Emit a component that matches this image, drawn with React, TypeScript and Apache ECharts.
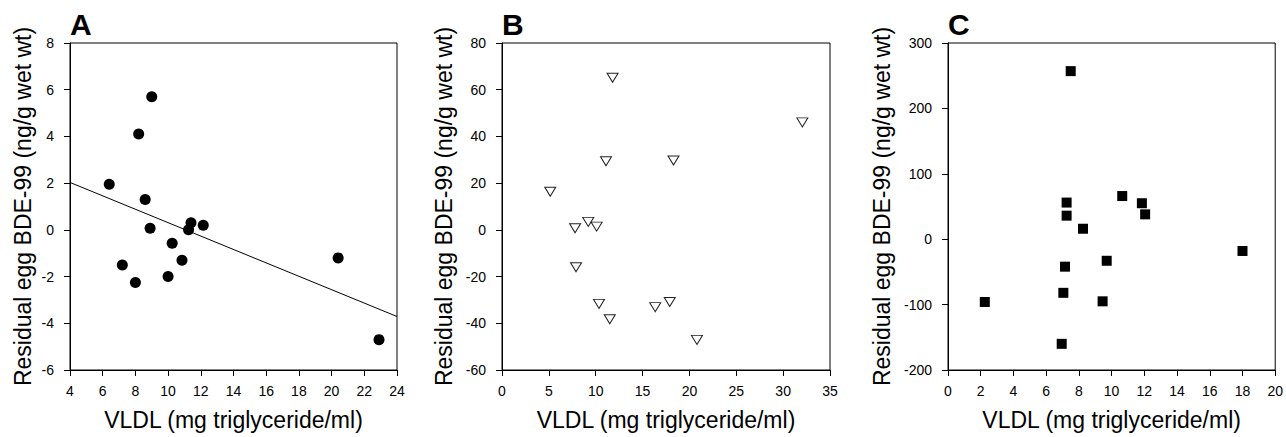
import React, { useEffect, useRef } from "react";
import * as echarts from "echarts";

// Panel A (filled circles + regression line)
const aX = [6.4, 7.2, 8.0, 8.2, 8.6, 9.0, 8.9, 10.0, 10.25, 10.85, 11.25, 11.4, 12.15, 20.4, 22.9];
const aY = [1.95, -1.5, -2.25, 4.1, 1.3, 5.7, 0.07, -2.0, -0.57, -1.3, 0.0, 0.3, 0.2, -1.2, -4.7];
const aLineX = [4, 24];
const aLineY = [2.03, -3.71];

// Panel B (open down-triangles)
const bX = [5.15, 7.8, 7.9, 9.2, 10.1, 10.35, 11.1, 11.5, 11.8, 16.35, 17.9, 18.3, 20.8, 32.05];
const bY = [16.3, 0.7, -16, 3.4, 1.4, -31.7, 29.4, -38.3, 65.1, -33.1, -30.9, 29.7, -47.1, 46];

// Panel C (filled squares)
const cX = [2.25, 6.95, 7.05, 7.15, 7.25, 7.25, 7.5, 8.25, 9.45, 9.7, 10.65, 11.85, 12.05, 18.0];
const cY = [-96, -160, -82, -42, 36, 56, 257, 16, -95, -33, 66, 55, 38, -18];

// Axes
const xAxes = [
  { min: 4, max: 24, interval: 2 },
  { min: 0, max: 35, interval: 5 },
  { min: 0, max: 20, interval: 2 },
];
const yAxes = [
  { min: -6, max: 8, interval: 2 },
  { min: -60, max: 80, interval: 20 },
  { min: -200, max: 300, interval: 100 },
];
const panelLetters = ["A", "B", "C"];
const xTitle = "VLDL (mg triglyceride/ml)";
const yTitle = "Residual egg BDE-99 (ng/g wet wt)";

const FONT = "'Liberation Sans', Arial, Helvetica, sans-serif";

const gridLefts = [70, 502, 948];
const gridWidths = [327, 328, 328];
const yNameGaps = [36, 47, 55];

function zip(xs: number[], ys: number[]) {
  return xs.map((x, i) => [x, ys[i]]);
}

export default function App() {
  const ref = useRef<HTMLDivElement>(null);
  useEffect(() => {
    if (!ref.current) return;
    const chart = echarts.init(ref.current, undefined, { renderer: "svg" });
    const axisCommon = {
      axisLine: { show: true, onZero: false, lineStyle: { color: "#000", width: 1 } },
      axisTick: { show: true, inside: false, length: 6, lineStyle: { color: "#000", width: 1 } },
      splitLine: { show: false },
      nameLocation: "middle" as const,
      nameTextStyle: { fontFamily: FONT, fontSize: 23, color: "#000" },
    };
    const option: any = {
      animation: false,
      backgroundColor: "#fff",
      grid: gridLefts.map((l, i) => ({
        left: l,
        top: 43,
        width: gridWidths[i],
        height: 327,
        show: true,
        borderColor: "#000",
        borderWidth: 1,
        backgroundColor: "transparent",
        containLabel: false,
      })),
      xAxis: xAxes.map((a, i) => ({
        ...axisCommon,
        type: "value",
        gridIndex: i,
        position: "bottom",
        min: a.min,
        max: a.max,
        interval: a.interval,
        name: xTitle,
        nameGap: 38,
        axisLabel: {
          fontFamily: FONT,
          fontSize: 14,
          color: "#000",
          margin: 14,
          showMinLabel: true,
          showMaxLabel: true,
          hideOverlap: false,
        },
      })),
      yAxis: yAxes.map((a, i) => ({
        ...axisCommon,
        type: "value",
        gridIndex: i,
        position: "left",
        min: a.min,
        max: a.max,
        interval: a.interval,
        name: yTitle,
        nameRotate: 90,
        nameGap: yNameGaps[i],
        axisLabel: {
          fontFamily: FONT,
          fontSize: 14,
          color: "#000",
          margin: 16,
          showMinLabel: true,
          showMaxLabel: true,
        },
      })),
      graphic: panelLetters.map((t, i) => ({
        type: "text",
        left: gridLefts[i],
        top: 9,
        style: {
          text: t,
          fontFamily: FONT,
          fontSize: 30,
          fontWeight: "bold",
          fill: "#000",
        },
      })),
      series: [
        {
          type: "line",
          xAxisIndex: 0,
          yAxisIndex: 0,
          data: zip(aLineX, aLineY),
          showSymbol: false,
          symbol: "none",
          lineStyle: { color: "#000", width: 1 },
          z: 1,
          silent: true,
        },
        {
          type: "scatter",
          xAxisIndex: 0,
          yAxisIndex: 0,
          data: zip(aX, aY),
          symbol: "circle",
          symbolSize: 11,
          itemStyle: { color: "#000", opacity: 1 },
          z: 3,
        },
        {
          type: "scatter",
          xAxisIndex: 1,
          yAxisIndex: 1,
          data: zip(bX, bY),
          symbol: "triangle",
          symbolRotate: 180,
          symbolSize: [11, 9],
          itemStyle: { color: "#fff", borderColor: "#222", borderWidth: 1, opacity: 1 },
          z: 3,
        },
        {
          type: "scatter",
          xAxisIndex: 2,
          yAxisIndex: 2,
          data: zip(cX, cY),
          symbol: "rect",
          symbolSize: 10,
          itemStyle: { color: "#000", opacity: 1 },
          z: 3,
        },
      ],
    };
    chart.setOption(option);
    return () => chart.dispose();
  }, []);
  return (
    <div
      ref={ref}
      style={{ position: "fixed", left: 0, top: 0, width: 1286, height: 437, background: "#fff" }}
    />
  );
}
